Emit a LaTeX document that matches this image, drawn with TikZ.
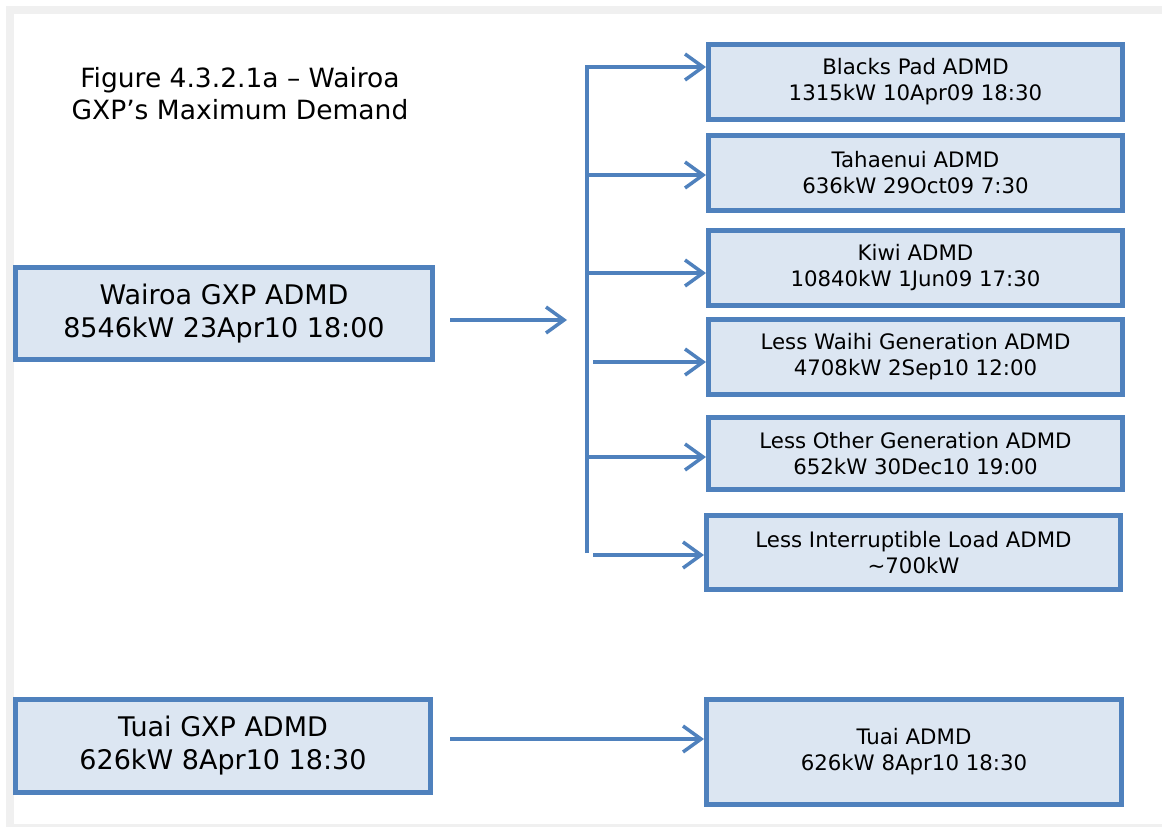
\documentclass[tikz,border=0pt]{standalone}
\usepackage{fontspec}
\setmainfont{DejaVu Sans}
\usetikzlibrary{arrows.meta}
\definecolor{bord}{HTML}{4F81BD}
\definecolor{boxfill}{HTML}{DCE6F2}
\definecolor{framegray}{HTML}{F0F0F0}
\begin{document}
\begin{tikzpicture}[x=1pt,y=-1pt,
  bx/.style={draw=bord, fill=boxfill, line width=5pt, align=center, inner sep=0pt},
  smalltxt/.style={font=\fontsize{21.3}{26}\selectfont},
  bigtxt/.style={font=\fontsize{27}{33}\selectfont},
  rbox/.style={bx, smalltxt, minimum width=414pt},
  conn/.style={draw=bord, line width=3.5pt},
  arr/.style={conn, -{Straight Barb[length=18pt, width=26pt, line width=3.5pt]}}]
\useasboundingbox (0,0) rectangle (1162,827);
% frame
\fill[framegray] (6,6) rectangle (1162,14);
\fill[framegray] (6,6) rectangle (14,827);
\fill[framegray] (6,824) rectangle (1162,827);
% title
\node[font=\fontsize{26.5}{32}\selectfont, align=center] (title) at (240,94) {Figure 4.3.2.1a – Wairoa\\GXP’s Maximum Demand};
% left boxes
\node[bx, bigtxt, minimum width=417pt, minimum height=92pt] (w) at (224,313.5) {Wairoa GXP ADMD\\8546kW 23Apr10 18:00};
\node[bx, bigtxt, minimum width=415pt, minimum height=93pt] (t) at (223,746) {Tuai GXP ADMD\\626kW 8Apr10 18:30};
% right boxes
\node[rbox, minimum height=75pt] (b1) at (915.5,82) {Blacks Pad ADMD\\1315kW 10Apr09 18:30};
\node[rbox, minimum height=75pt] (b2) at (915.5,173) {Tahaenui ADMD\\636kW 29Oct09 7:30};
\node[rbox, minimum height=75pt] (b3) at (915.5,268) {Kiwi ADMD\\10840kW 1Jun09 17:30};
\node[rbox, minimum height=75pt] (b4) at (915.5,357) {Less Waihi Generation ADMD\\4708kW 2Sep10 12:00};
\node[rbox, minimum height=72pt] (b5) at (915.5,453.5) {Less Other Generation ADMD\\652kW 30Dec10 19:00};
\node[rbox, minimum height=74pt] (b6) at (913.5,552.5) {Less Interruptible Load ADMD\\\textasciitilde700kW};
\node[rbox, minimum width=415pt, minimum height=105pt] (tu) at (914,752) {Tuai ADMD\\626kW 8Apr10 18:30};
% connectors
\coordinate (tr1) at (587,67);
\coordinate (trB) at (587,553);
\coordinate (tr2) at (587,175);
\coordinate (tr3) at (587,273);
\coordinate (tr4) at (593,362);
\coordinate (tr5) at (587,457);
\coordinate (tr6) at (593,555);
\draw[arr] (trB) -- (tr1) -- (tr1 -| b1.west);
\draw[arr] (tr2) -- (tr2 -| b2.west);
\draw[arr] (tr3) -- (tr3 -| b3.west);
\draw[arr] (tr4) -- (tr4 -| b4.west);
\draw[arr] (tr5) -- (tr5 -| b5.west);
\draw[arr] (tr6) -- (tr6 -| b6.west);
\coordinate (ws) at (450,320);
\coordinate (we) at (567,320);
\draw[arr] (ws) -- (we);
\coordinate (ts) at (450,739);
\draw[arr] (ts) -- (ts -| tu.west);
\end{tikzpicture}
\end{document}
